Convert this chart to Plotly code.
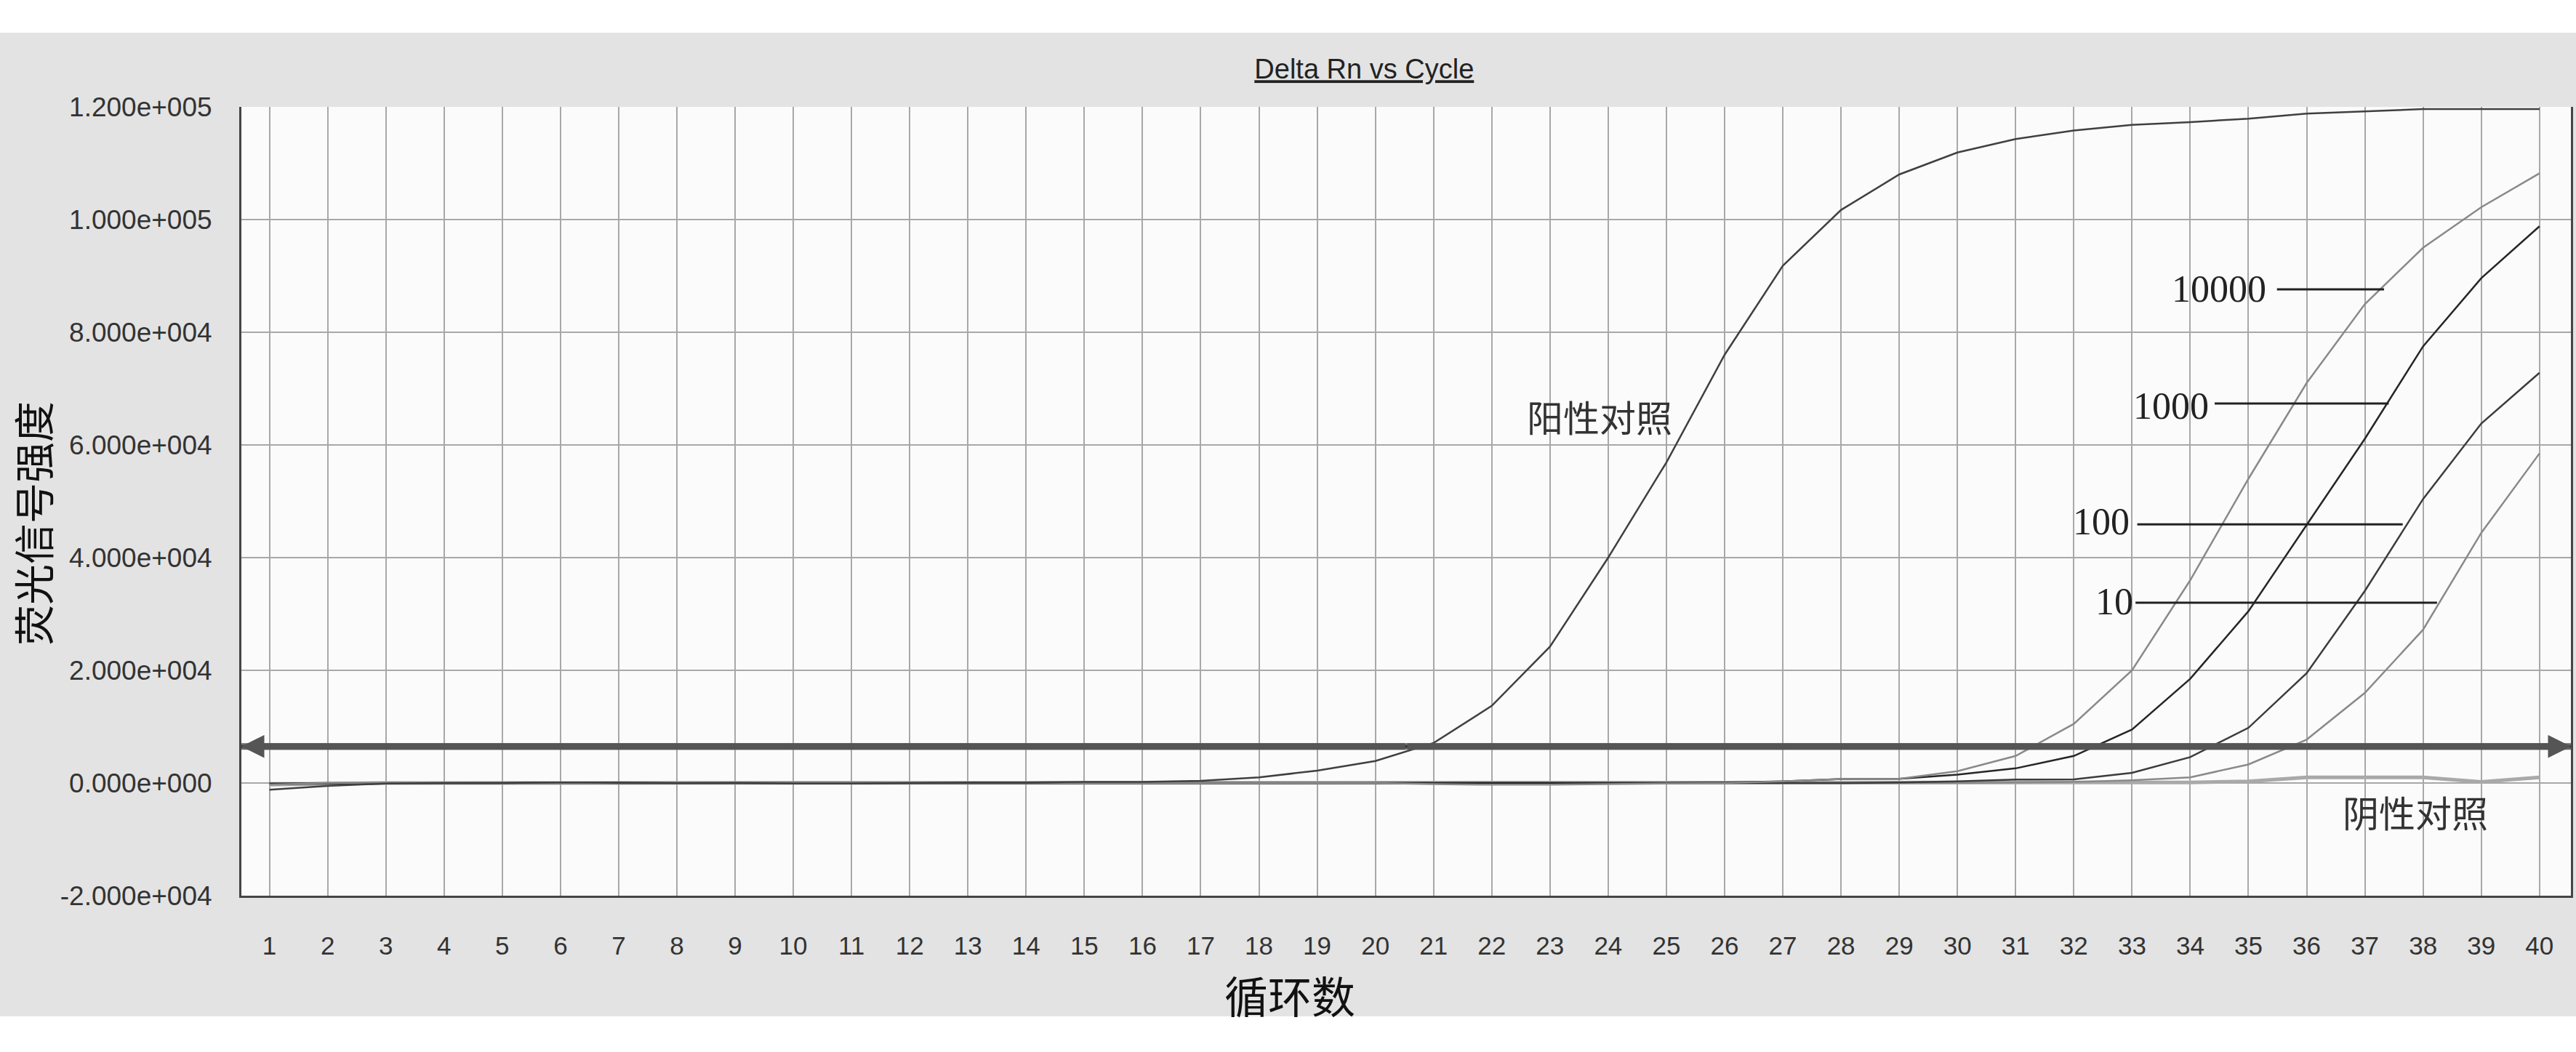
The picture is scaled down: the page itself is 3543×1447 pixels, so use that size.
import plotly.graph_objects as go

# ---------------- data ----------------
cycles = list(range(1, 41))

pos_ctrl = [-1200, -500, -100, 0, 0, 100, 100, 0, 0, -100, -100, 0, 100, 100, 200, 200,
            400, 1000, 2200, 3900, 7100, 13700, 24200, 40000, 56900, 76000, 91800, 101700,
            108000, 111900, 114300, 115800, 116800, 117300, 117900, 118800, 119200, 119600,
            119600, 119600]
s10000 = [-300, 0, 100, 100, 0, 0, 100, 100, 0, 0, 0, 100, 100, 100, 0, 0, 0, 0, 0, 0,
          -200, -300, -300, -200, -100, 0, 300, 700, 750, 2100, 4800, 10500, 20000, 36000,
          54000, 71000, 85000, 95000, 102200, 108200]
s1000 = [-200, -100, 0, 0, 0, 100, 0, 0, 0, 0, 0, 0, 0, 0, 0, 0, 0, 0, 0, 0,
         0, 0, 0, 0, 0, 100, 300, 700, 750, 1500, 2600, 4800, 9500, 18500, 30500, 45800,
         61100, 77500, 89600, 98800]
s100 = [-100, 0, 0, 0, 0, 0, 0, 0, 0, 0, 0, 0, 0, 0, 0, 0, 0, 0, 0, 0,
        0, 0, 0, 0, 0, 0, 0, 0, 100, 300, 600, 650, 1800, 4600, 9800, 19500, 34100,
        50400, 63800, 72800]
s10 = [0, 0, 0, 0, 0, 0, 0, 0, 0, 0, 0, 0, 0, 0, 0, 0, 0, 0, 0, 0,
       0, 0, 0, 0, 0, 0, 0, 0, 0, 0, 100, 200, 500, 1000, 3300, 7700, 16000, 27200,
       44400, 58500]
neg_ctrl = [-300, -100, 0, 0, 0, 0, 0, 0, 0, 0, 0, 0, 0, 0, 0, 0, 0, 0, 0, 0,
            0, 0, 0, 0, 0, 0, 0, 0, 0, 0, 0, 0, 0, 100, 300, 1000, 1000, 1000, 200, 1000]

threshold = 6500

y_ticks = [-20000, 0, 20000, 40000, 60000, 80000, 100000, 120000]

series_names = ["阴性对照", "10", "100", "1000", "10000", "阳性对照"]

# label pointer positions (cycle range, value) for dilution labels
label_text = ["10000", "1000", "100", "10"]
label_x = [34.49, 33.67, 32.47, 32.69]
label_y = [87740, 66840, 46450, 32130]
pointer_x0 = [35.49, 34.42, 33.09, 33.06]
pointer_x1 = [37.33, 37.41, 37.65, 38.24]
pointer_y = [87600, 67350, 45900, 32000]


def sci(v):
    if v == 0:
        return "0.000e+000"
    s = f"{v:.3e}"
    mant, exp = s.split("e")
    e = int(exp)
    return f"{mant}e{'+' if e >= 0 else '-'}{abs(e):03d}"


X_RANGE = [0.518, 40.54]
Y_RANGE = [-20000, 120000]

fig = go.Figure()

styles = {
    "阴性对照": dict(color="#a9a9a9", width=5),
    "10": dict(color="#8a8a8a", width=2.5),
    "100": dict(color="#3c3c3c", width=2.5),
    "1000": dict(color="#262626", width=2.5),
    "10000": dict(color="#8a8a8a", width=2.5),
    "阳性对照": dict(color="#404040", width=2.5),
}
data_map = {
    "阴性对照": neg_ctrl, "10": s10, "100": s100, "1000": s1000,
    "10000": s10000, "阳性对照": pos_ctrl,
}
for name in series_names:
    fig.add_trace(go.Scatter(x=cycles, y=data_map[name], mode="lines", name=name,
                             line=styles[name], showlegend=False))

# threshold line
fig.add_shape(type="line", xref="paper", x0=0, x1=1, yref="y", y0=threshold, y1=threshold,
              line=dict(color="#6a6a6a", width=9), layer="above")
fig.add_shape(type="line", xref="paper", x0=0, x1=1, yref="y", y0=threshold, y1=threshold,
              line=dict(color="#333333", width=3), layer="above")
mid = (X_RANGE[0] + X_RANGE[1]) / 2
for xe in (X_RANGE[0], X_RANGE[1]):
    fig.add_annotation(x=xe, y=threshold, ax=mid, ay=threshold, xref="x", yref="y",
                       axref="x", ayref="y", showarrow=True, arrowhead=2, arrowsize=0.7,
                       arrowwidth=9, arrowcolor="#555555", text="", standoff=0)

# pointer lines + dilution labels
for t, lx, ly, px0, px1, py in zip(label_text, label_x, label_y, pointer_x0, pointer_x1, pointer_y):
    fig.add_shape(type="line", xref="x", yref="y", x0=px0, x1=px1, y0=py, y1=py,
                  line=dict(color="#222222", width=3), layer="above")
    fig.add_annotation(x=lx, y=ly, xref="x", yref="y", text=t, showarrow=False,
                       xanchor="center", yanchor="middle",
                       font=dict(family="Liberation Serif", size=52, color="#222222"))

fig.add_annotation(x=23.85, y=65160, xref="x", yref="y", text="阳性对照", showarrow=False,
                   xanchor="center", yanchor="middle",
                   font=dict(family="Noto Sans CJK SC", size=50, color="#333333"))
fig.add_annotation(x=37.87, y=-5030, xref="x", yref="y", text="阴性对照", showarrow=False,
                   xanchor="center", yanchor="middle",
                   font=dict(family="Noto Sans CJK SC", size=50, color="#333333"))

# axis titles
fig.add_annotation(x=(44 - 332) / 3204, y=0.472, xref="paper", yref="paper", text="荧光信号强度",
                   textangle=-90, showarrow=False, xanchor="center", yanchor="middle",
                   font=dict(family="Noto Sans CJK SC", size=56, color="#111111"))
fig.add_annotation(x=0.450, y=-0.125, xref="paper", yref="paper", text="循环数",
                   showarrow=False, xanchor="center", yanchor="middle",
                   font=dict(family="Noto Sans CJK SC", size=60, color="#111111"))

# white bands top/bottom
fig.add_shape(type="rect", xref="paper", yref="paper", x0=-0.2, x1=1.2,
              y0=(1232 - 45) / 1085, y1=1.3, fillcolor="white", line=dict(width=0), layer="above")
fig.add_shape(type="rect", xref="paper", yref="paper", x0=-0.2, x1=1.2,
              y0=-0.3, y1=(1232 - 1398) / 1085, fillcolor="white", line=dict(width=0), layer="above")

fig.update_layout(
    width=3543, height=1447,
    margin=dict(l=332, r=7, t=147, b=215, autoexpand=False),
    paper_bgcolor="#e3e3e3",
    plot_bgcolor="#fbfbfb",
    title=dict(text="<u>Delta Rn vs Cycle</u>", x=0.482, xref="paper", xanchor="center",
               y=1 - 95 / 1447, yref="container", yanchor="middle",
               font=dict(family="Liberation Sans", size=38, color="#222222")),
    xaxis=dict(range=X_RANGE, tickmode="array", tickvals=cycles,
               ticktext=[str(c) for c in cycles], showgrid=True, gridcolor="#a8a8a8",
               gridwidth=2, zeroline=False, showline=True, linecolor="#454545", linewidth=3,
               mirror=False, ticks="", ticklabelstandoff=36,
               tickfont=dict(family="Liberation Sans", size=35, color="#333333")),
    yaxis=dict(range=Y_RANGE, tickmode="array", tickvals=y_ticks,
               ticktext=[sci(v) for v in y_ticks], showgrid=True, gridcolor="#a8a8a8",
               gridwidth=2, zeroline=False, showline=True, linecolor="#454545", linewidth=3,
               mirror=True, ticks="", ticklabelstandoff=30,
               tickfont=dict(family="Liberation Sans", size=37, color="#333333")),
    showlegend=False,
)

fig.write_html("out.html", config={"displayModeBar": False},
               post_script="document.body.style.margin='0';")
